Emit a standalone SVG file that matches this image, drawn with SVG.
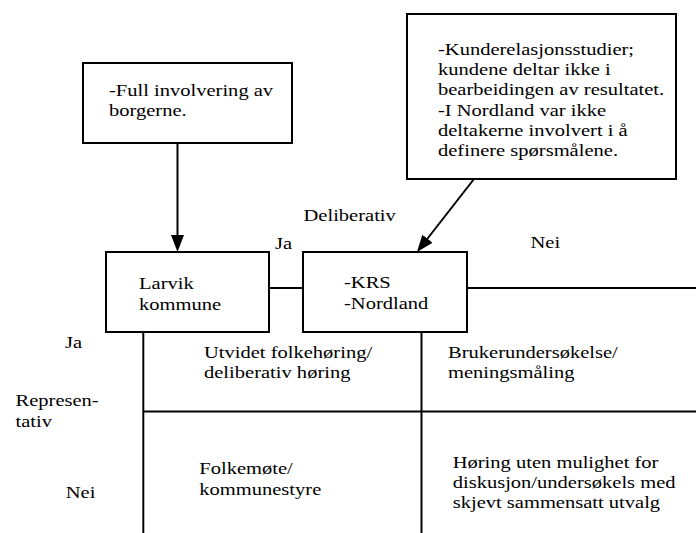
<svg xmlns="http://www.w3.org/2000/svg" width="696" height="533" viewBox="0 0 696 533">
<style>
.box{fill:#fff;stroke:#000;stroke-width:2}
.ln{fill:none;stroke:#000;stroke-width:2}
</style>
<defs>
<marker id="ah" markerUnits="userSpaceOnUse" markerWidth="18" markerHeight="14" refX="3" refY="6.5" orient="auto" viewBox="0 0 18 13">
<path d="M0,0 L17,6.5 L0,13 z" fill="#000"/>
</marker>
</defs>
<rect width="696" height="533" fill="#fff"/>
<g id="connectors">
<line class="ln" x1="177.5" y1="143" x2="177.5" y2="238" marker-end="url(#ah)"/>
<line class="ln" x1="474" y1="179" x2="425.6" y2="241" marker-end="url(#ah)"/>
<line class="ln" x1="269" y1="288" x2="303" y2="288"/>
<line class="ln" x1="467" y1="288" x2="696" y2="288"/>
<line class="ln" x1="143.3" y1="332" x2="143.3" y2="533"/>
<line class="ln" x1="421.5" y1="332" x2="421.5" y2="533"/>
<line class="ln" x1="143.3" y1="411.5" x2="696" y2="411.5"/>
</g>
<g font-family="Liberation Serif, Times New Roman, serif" font-size="17.7" fill="#000">
<g id="note-full">
<rect class="box" x="83" y="63" width="209" height="80"/>
<text transform="translate(109,95.5) scale(1.16,1)"><tspan x="0" y="0">-Full involvering av</tspan><tspan x="0" y="20.3">borgerne.</tspan></text>
</g>
<g id="note-kunde">
<rect class="box" x="407" y="14" width="269" height="165"/>
<text transform="translate(438,54.5) scale(1.16,1)"><tspan x="0" y="0">-Kunderelasjonsstudier;</tspan><tspan x="0" y="20.4">kundene deltar ikke i</tspan><tspan x="0" y="40.8">bearbeidingen av resultatet.</tspan><tspan x="0" y="61.2">-I Nordland var ikke</tspan><tspan x="0" y="81.6">deltakerne involvert i å</tspan><tspan x="0" y="102">definere spørsmålene.</tspan></text>
</g>
<g id="larvik">
<rect class="box" x="106" y="252" width="163" height="80"/>
<text transform="translate(139,288.7) scale(1.16,1)"><tspan x="0" y="0">Larvik</tspan><tspan x="0" y="21">kommune</tspan></text>
</g>
<g id="krs">
<rect class="box" x="303" y="252" width="164" height="80"/>
<text transform="translate(344,288) scale(1.16,1)"><tspan x="0" y="0">-KRS</tspan><tspan x="0" y="21">-Nordland</tspan></text>
</g>
<g id="labels">
<text transform="translate(303.5,221) scale(1.16,1)">Deliberativ</text>
<text transform="translate(275,249) scale(1.16,1)">Ja</text>
<text transform="translate(530.5,248) scale(1.16,1)">Nei</text>
<text transform="translate(65,348) scale(1.16,1)">Ja</text>
<text transform="translate(15.5,406) scale(1.16,1)"><tspan x="0" y="0">Represen-</tspan><tspan x="0" y="20.7">tativ</tspan></text>
<text transform="translate(65.7,498) scale(1.16,1)">Nei</text>
</g>
<g id="cells">
<text transform="translate(204,358) scale(1.16,1)"><tspan x="0" y="0">Utvidet folkehøring/</tspan><tspan x="0" y="20">deliberativ høring</tspan></text>
<text transform="translate(448,358) scale(1.16,1)"><tspan x="0" y="0">Brukerundersøkelse/</tspan><tspan x="0" y="20">meningsmåling</tspan></text>
<text transform="translate(199.3,474) scale(1.16,1)"><tspan x="0" y="0">Folkemøte/</tspan><tspan x="0" y="21">kommunestyre</tspan></text>
<text transform="translate(452.7,468.3) scale(1.16,1)"><tspan x="0" y="0">Høring uten mulighet for</tspan><tspan x="0" y="20">diskusjon/undersøkels med</tspan><tspan x="0" y="40">skjevt sammensatt utvalg</tspan></text>
</g>
</g>
</svg>
